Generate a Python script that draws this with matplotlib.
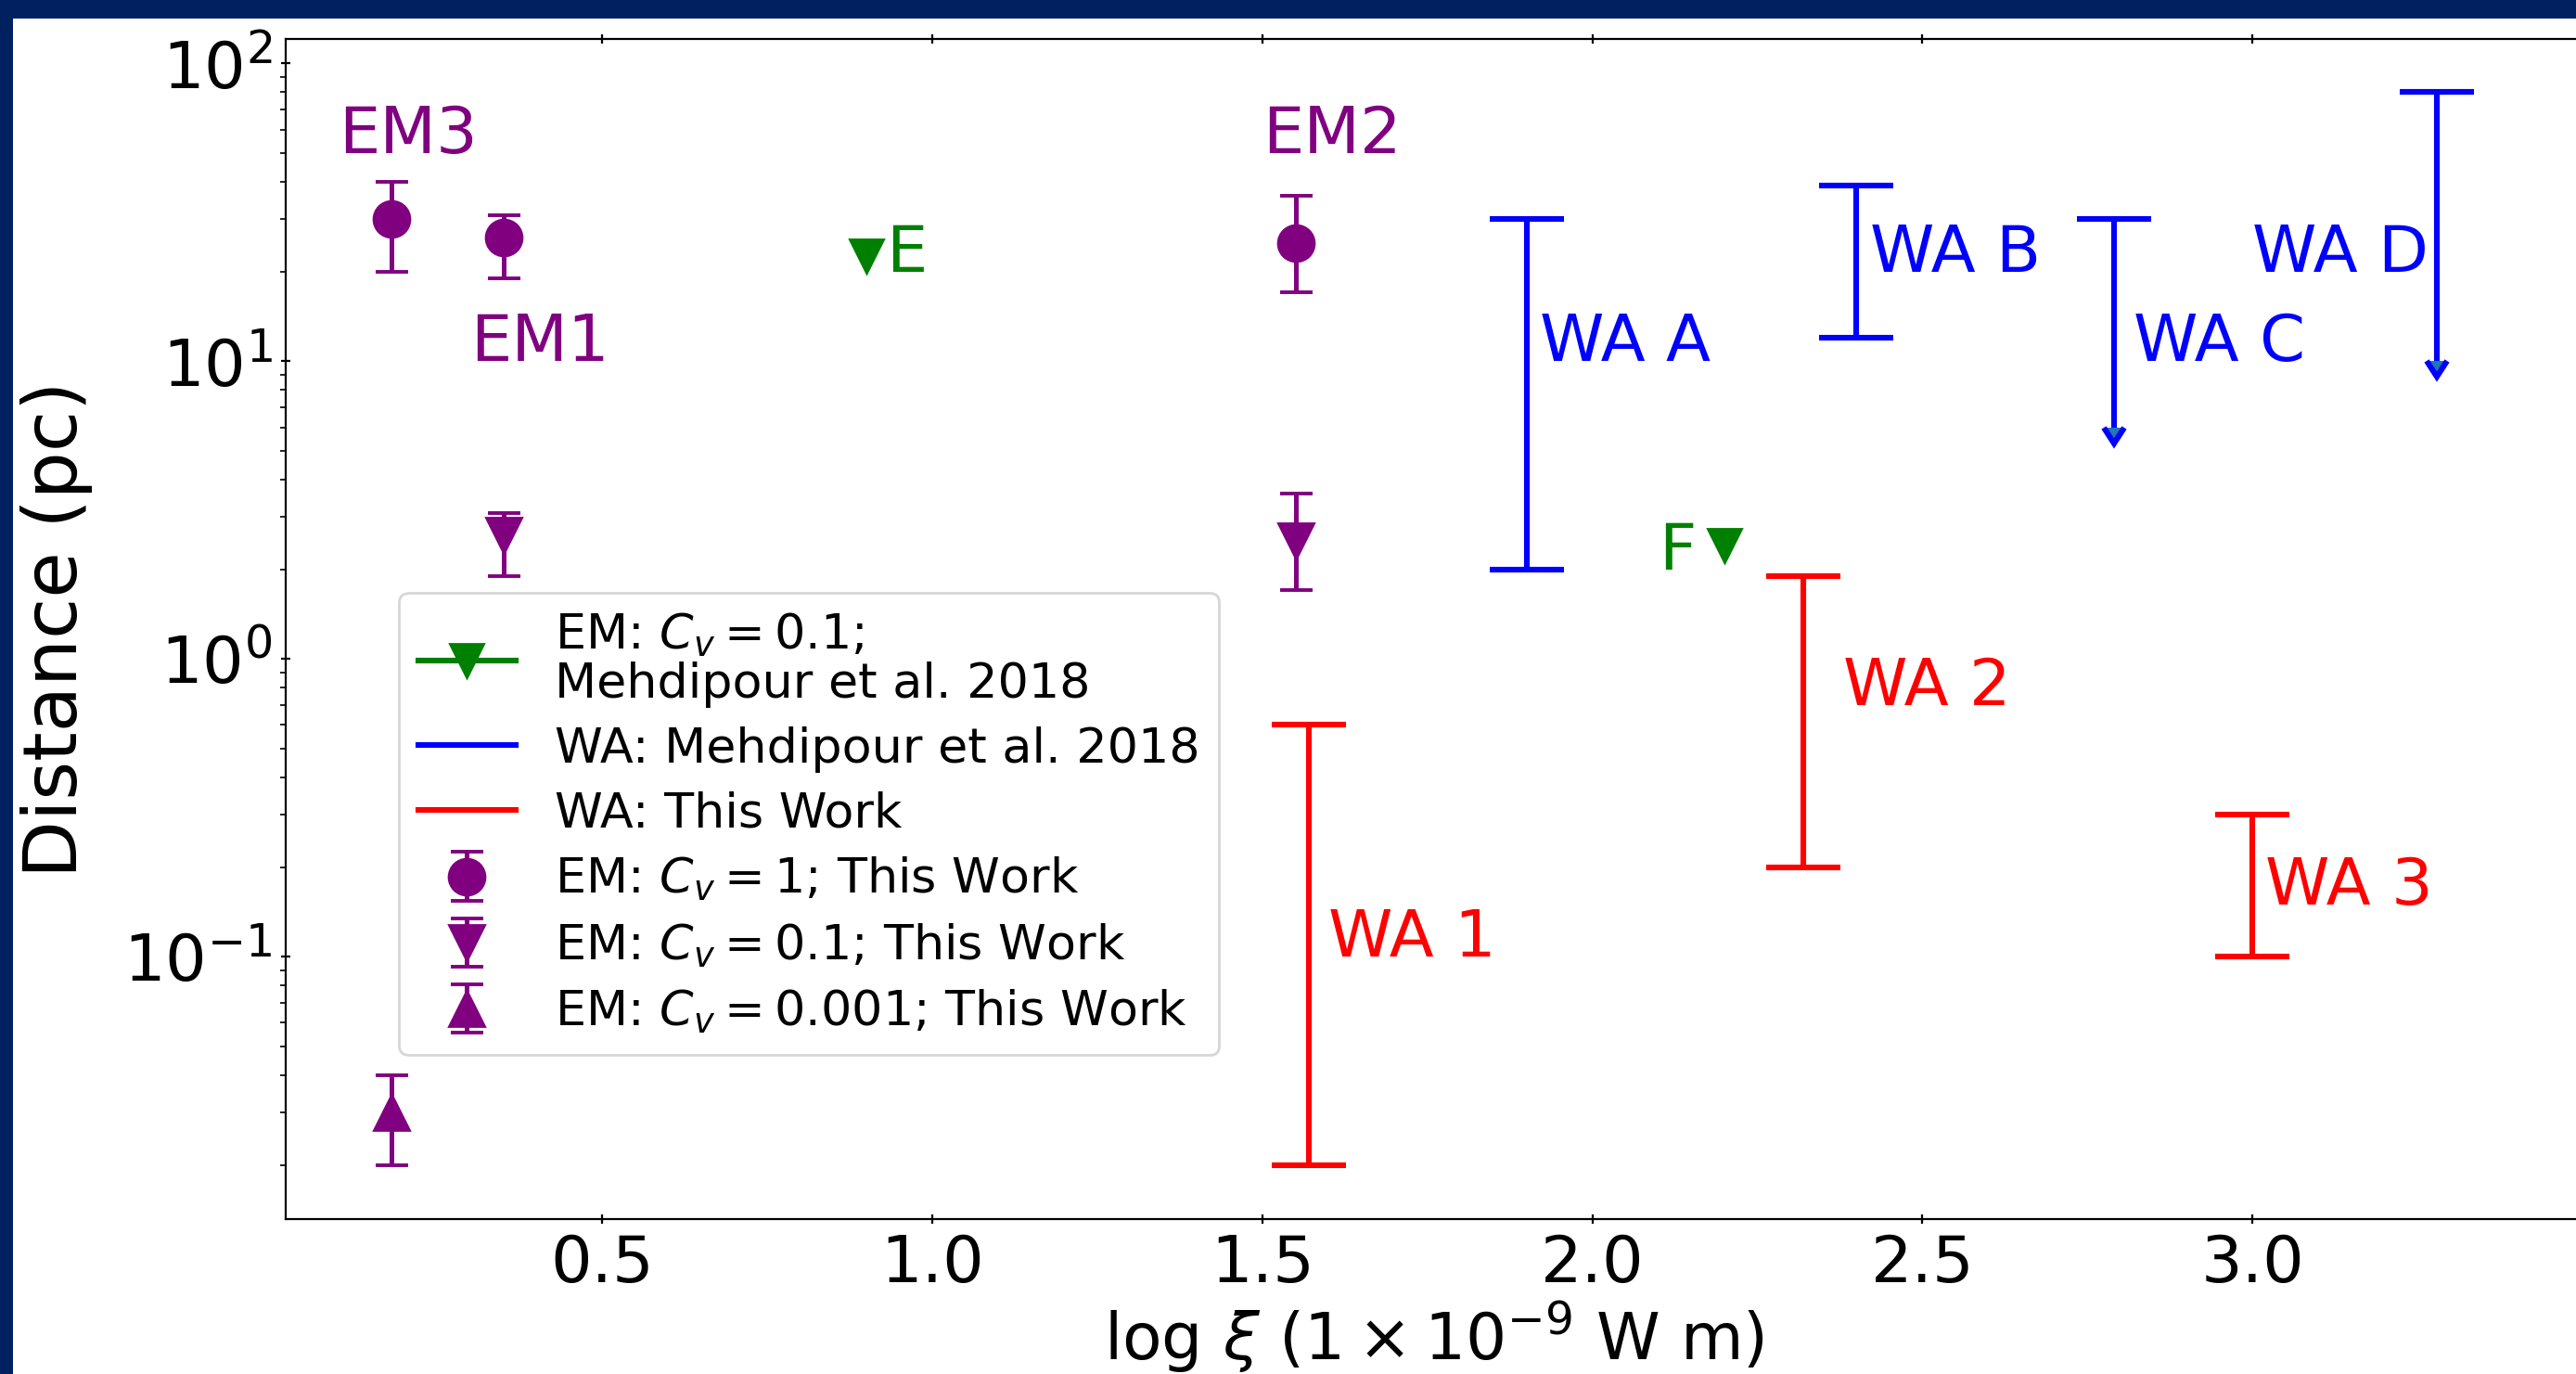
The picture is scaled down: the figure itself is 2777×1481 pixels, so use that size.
import numpy as np
import matplotlib
matplotlib.use('Agg')
from matplotlib import pyplot as plt
from matplotlib import lines as mlines
from matplotlib.patches import Rectangle

# emission measure (EM) estimates, this work
em1_x = [0.18, 0.35, 1.55]          # C_v = 1
em1_y = [30, 26, 25]
em1_lo = [10, 7, 8]
em1_hi = [10, 5, 11]

em01_x = [0.35, 1.55]               # C_v = 0.1
em01_y = [2.6, 2.5]
em01_lo = [0.7, 0.8]
em01_hi = [0.5, 1.1]

em0001_x = [0.18]                   # C_v = 0.001
em0001_y = [0.03]
em0001_lo = [0.01]
em0001_hi = [0.01]

# Mehdipour et al. 2018, EM (C_v = 0.1)
mp_em_x = [0.9, 2.2]
mp_em_y = [22.5, 2.4]

# warm absorbers, Mehdipour et al. 2018 (ranges / upper limits)
wa_mp_x = [1.9, 2.4]
wa_mp_lo = [2, 12]
wa_mp_hi = [30, 39]
wa_lim_x = [2.79, 3.28]
wa_lim_lo = [6, 10]
wa_lim_hi = [30, 80]

# warm absorbers, this work
wa_tw_x = [1.57, 2.32, 3.0]
wa_tw_lo = [0.02, 0.2, 0.1]
wa_tw_hi = [0.6, 1.9, 0.3]

# text labels: (x, y, text, colour)
labels = [
    (0.10, 50, 'EM3', 'purple'), (0.30, 10, 'EM1', 'purple'),
    (1.50, 50, 'EM2', 'purple'), (0.93, 20, 'E', 'green'),
    (2.10, 2, 'F', 'green'), (1.92, 10, 'WA A', 'blue'),
    (2.42, 20, 'WA B', 'blue'), (2.82, 10, 'WA C', 'blue'),
    (3.00, 20, 'WA D', 'blue'), (1.60, 0.1, 'WA 1', 'red'),
    (2.38, 0.7, 'WA 2', 'red'), (3.02, 0.15, 'WA 3', 'red'),
]

fig = plt.figure(figsize=(13.885, 7.405), dpi=200)
fig.patch.set_facecolor('white')
ax = fig.add_axes([0.1109, 0.1128, 0.8916, 0.8588])

# green: Mehdipour EM points
for i, (x, y) in enumerate(zip(mp_em_x, mp_em_y)):
    ln, = ax.plot([x], [y], '-v', color='green', ms=13, lw=2.2)
    if i == 0:
        green_handle = ln

# blue: Mehdipour warm absorbers
wa_mp_x = np.array(wa_mp_x)
wa_mp_lo = np.array(wa_mp_lo, dtype=float)
wa_mp_hi = np.array(wa_mp_hi, dtype=float)
ax.errorbar(wa_mp_x, wa_mp_hi, yerr=[wa_mp_hi - wa_mp_lo, np.zeros_like(wa_mp_hi)],
            fmt='none', ecolor='blue', elinewidth=2.2, capsize=14.4, capthick=2.2)

wa_lim_lo = np.array(wa_lim_lo, dtype=float)
wa_lim_hi = np.array(wa_lim_hi, dtype=float)
eb = ax.errorbar(wa_lim_x, wa_lim_hi, yerr=[wa_lim_hi - wa_lim_lo, np.zeros_like(wa_lim_hi)],
                 uplims=True, fmt='none', ecolor='blue', elinewidth=2.2,
                 capsize=14.4, capthick=2.2)
for cl in eb[1]:
    if cl.get_marker() == mlines.CARETDOWNBASE:
        cl.set_markersize(8)

# red: this work warm absorbers
wa_tw_lo = np.array(wa_tw_lo)
wa_tw_hi = np.array(wa_tw_hi)
ax.errorbar(wa_tw_x, wa_tw_hi, yerr=[wa_tw_hi - wa_tw_lo, np.zeros_like(wa_tw_hi)],
            fmt='none', ecolor='red', elinewidth=2.2, capsize=14.4, capthick=2.2)

# purple: this work EM
pkw = dict(color='purple', ms=14, elinewidth=1.8, capsize=6.3, capthick=1.4)
h1 = ax.errorbar(em1_x, em1_y, yerr=[em1_lo, em1_hi], fmt='o', **pkw)
h2 = ax.errorbar(em01_x, em01_y, yerr=[em01_lo, em01_hi], fmt='v', **pkw)
h3 = ax.errorbar(em0001_x, em0001_y, yerr=[em0001_lo, em0001_hi], fmt='^', **pkw)

for x, y, s, c in labels:
    ax.text(x, y, s, color=c, fontsize=25.3)

ax.set_yscale('log')
ax.set_xlim(0.02, 3.50)
ax.set_ylim(0.01315, 120.8)
ax.set_xticks([0.5, 1.0, 1.5, 2.0, 2.5, 3.0])
ax.tick_params(axis='both', which='major', direction='inout', top=True, labelsize=25.3)
ax.tick_params(axis='y', which='minor', direction='out')

ax.set_xlabel(r'log $\xi$ ($1 \times 10^{-9}$ W m)', fontsize=25, labelpad=2)
ax.set_ylabel('Distance (pc)', fontsize=29, labelpad=12)

blue_handle = mlines.Line2D([], [], color='blue', lw=2.2)
red_handle = mlines.Line2D([], [], color='red', lw=2.2)
leg = ax.legend([green_handle, blue_handle, red_handle, h1, h2, h3],
                ['EM: $C_v = 0.1$;\nMehdipour et al. 2018',
                 'WA: Mehdipour et al. 2018',
                 'WA: This Work',
                 'EM: $C_v = 1$; This Work',
                 'EM: $C_v = 0.1$; This Work',
                 'EM: $C_v = 0.001$; This Work'],
                loc='upper left', bbox_to_anchor=(0.0493, 0.531), borderaxespad=0,
                fontsize=18.85, labelspacing=0.38)
leg.get_texts()[0].set_linespacing(1.05)

# dark slide frame on top and left
navy = '#002060'
fig.patches.append(Rectangle((0, 1 - 20 / 1481), 1, 20 / 1481, transform=fig.transFigure,
                             facecolor=navy, edgecolor='none', zorder=10))
fig.patches.append(Rectangle((0, 0), 14 / 2777, 1, transform=fig.transFigure,
                             facecolor=navy, edgecolor='none', zorder=10))

plt.savefig('out.png', dpi=200)
